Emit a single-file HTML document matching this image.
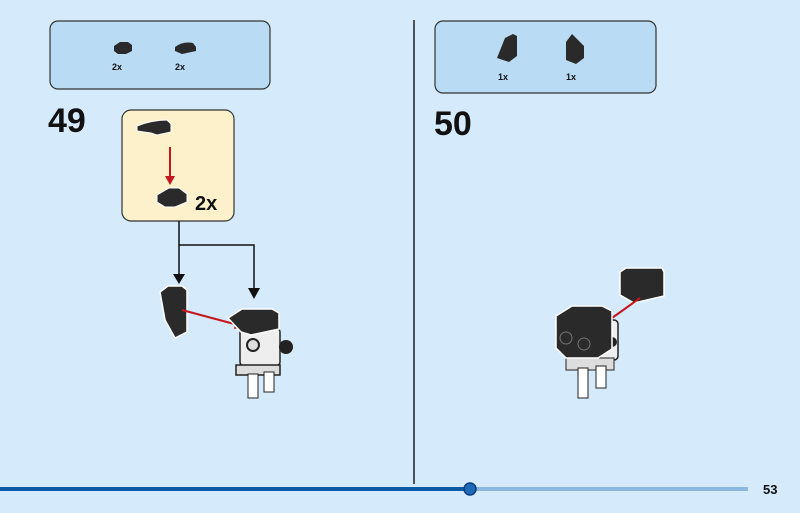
<!DOCTYPE html><html><head><style>body{margin:0}svg{display:block}</style></head><body>
<svg width="800" height="513" xmlns="http://www.w3.org/2000/svg" font-family="Liberation Sans, sans-serif">
<rect width="800" height="513" fill="#d5eafa"/>
<rect x="50" y="21" width="220" height="68" rx="8" fill="#b9dbf4" stroke="#333" stroke-width="1.2"/>
<rect x="435" y="21" width="221" height="72" rx="8" fill="#b9dbf4" stroke="#333" stroke-width="1.2"/>
<line x1="414" y1="20" x2="414" y2="484" stroke="#222" stroke-width="1.5"/>
<!-- parts 49 -->
<path d="M114 46 l6-4 h8 l4 3 v6 l-6 3 h-8 l-4-3z" fill="#2a2a2a"/>
<path d="M175 47 q8-6 18-4 l3 4 v4 l-14 3 l-7-3z" fill="#2a2a2a"/>
<text x="112" y="70" font-size="9" font-weight="bold" fill="#111">2x</text>
<text x="175" y="70" font-size="9" font-weight="bold" fill="#111">2x</text>
<!-- parts 50 -->
<path d="M497 58 l8-20 l8-4 l4 2 v20 l-8 6z" fill="#2a2a2a"/>
<path d="M566 60 v-18 l6-8 l12 12 v12 l-8 6z" fill="#2a2a2a"/>
<text x="498" y="80" font-size="9" font-weight="bold" fill="#111">1x</text>
<text x="566" y="80" font-size="9" font-weight="bold" fill="#111">1x</text>
<text x="48" y="132" font-size="34" font-weight="bold" fill="#111">49</text>
<text x="434" y="135" font-size="34" font-weight="bold" fill="#111">50</text>
<!-- callout -->
<rect x="122" y="110" width="112" height="111" rx="9" fill="#fdf1cc" stroke="#333" stroke-width="1.2"/>
<path d="M137 126 q15-6 30-6 l4 4 v8 l-14 3 l-6-2 l-14-2z" fill="#2a2a2a" stroke="#fff" stroke-width="1"/>
<line x1="170" y1="147" x2="170" y2="178" stroke="#c4161c" stroke-width="2"/>
<polygon points="165,176 175,176 170,185" fill="#c4161c"/>
<path d="M157 195 l12-7 h10 l8 6 v8 l-12 5 h-10 l-8-5z" fill="#2a2a2a" stroke="#fff" stroke-width="1"/>
<text x="195" y="210" font-size="20" font-weight="bold" fill="#111">2x</text>
<!-- connectors -->
<path d="M179 221 V277 M179 245 H254 V290" fill="none" stroke="#111" stroke-width="1.5"/>
<polygon points="173,274 185,274 179,284" fill="#111"/>
<polygon points="248,288 260,288 254,299" fill="#111"/>
<!-- left piece -->
<path d="M160 292 l8-6 h14 l5 4 v42 l-12 6 l-10-18z" fill="#2a2a2a" stroke="#fff" stroke-width="1.5"/>
<line x1="182" y1="310" x2="238" y2="325" stroke="#c4161c" stroke-width="2"/>
<polygon points="236,320 245,327 234,329" fill="#c4161c"/>
<!-- robot 49 -->
<rect x="240" y="328" width="40" height="38" rx="4" fill="#eee" stroke="#222" stroke-width="1.5"/>
<circle cx="253" cy="345" r="6" fill="#ddd" stroke="#222" stroke-width="2"/>
<circle cx="286" cy="347" r="7" fill="#222"/>
<path d="M236 365 h44 v10 h-44z" fill="#ddd" stroke="#222" stroke-width="1.5"/>
<rect x="248" y="374" width="10" height="24" fill="#fff" stroke="#222"/>
<rect x="264" y="372" width="10" height="20" fill="#fff" stroke="#222"/>
<path d="M228 318 l14-9 h30 l7 4 v16 l-28 6 l-10-3z" fill="#2a2a2a" stroke="#fff" stroke-width="1.5"/>
<!-- piece 50 -->
<path d="M620 272 l6-4 h36 l2 4 v24 l-30 7 l-14-8z" fill="#2a2a2a" stroke="#fff" stroke-width="1.5"/>
<line x1="640" y1="298" x2="612" y2="318" stroke="#c4161c" stroke-width="2"/>
<polygon points="610,313 614,322 606,324" fill="#c4161c"/>
<!-- robot 50 -->
<rect x="594" y="320" width="24" height="40" rx="4" fill="#eee" stroke="#222" stroke-width="1.5"/>
<circle cx="612" cy="342" r="5" fill="#222"/>
<rect x="566" y="358" width="48" height="12" fill="#ddd" stroke="#222"/>
<rect x="578" y="368" width="10" height="30" fill="#fff" stroke="#222"/>
<rect x="596" y="366" width="10" height="22" fill="#fff" stroke="#222"/>
<path d="M556 316 l16-10 h30 l10 5 v38 l-14 9 h-32 l-10-10z" fill="#2a2a2a" stroke="#fff" stroke-width="1.5"/>
<circle cx="566" cy="338" r="6" fill="#2a2a2a" stroke="#777"/>
<circle cx="584" cy="344" r="6" fill="#2a2a2a" stroke="#777"/>
<!-- progress -->
<line x1="0" y1="489" x2="470" y2="489" stroke="#0b5aa6" stroke-width="4"/>
<line x1="470" y1="489" x2="748" y2="489" stroke="#8db6e2" stroke-width="4"/>
<circle cx="470" cy="489" r="6" fill="#1e6ab8" stroke="#0b3d78" stroke-width="1.5"/>
<text x="763" y="494" font-size="13" font-weight="bold" fill="#111">53</text>
</svg>
</body></html>
